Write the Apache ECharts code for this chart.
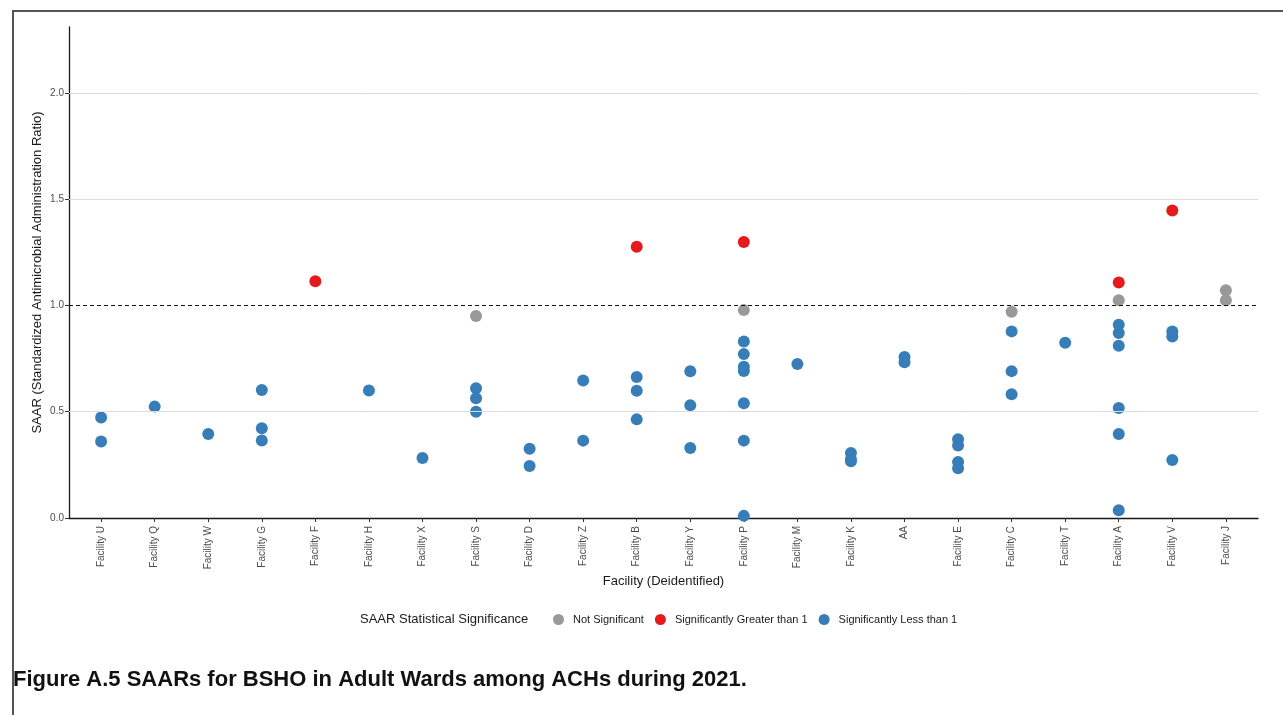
<!DOCTYPE html>
<html>
<head>
<meta charset="utf-8">
<script src="https://cdn.jsdelivr.net/npm/echarts@6/dist/echarts.min.js"></script>
<style>
  html, body { margin: 0; padding: 0; background: #fff; }
  #chart { width: 1283px; height: 715px; }
</style>
</head>
<body>
<div id="chart"></div>
<script>
// Facilities in display order along the x axis
const facilities = [
  'Facility U', 'Facility Q', 'Facility W', 'Facility G', 'Facility F', 'Facility H',
  'Facility X', 'Facility S', 'Facility D', 'Facility Z', 'Facility B', 'Facility Y',
  'Facility P', 'Facility M', 'Facility K', 'AA', 'Facility E', 'Facility C',
  'Facility T', 'Facility A', 'Facility V', 'Facility J'
];

// SAAR values per facility, grouped by statistical significance
const notSignificant = [
  ['Facility S', 0.950], ['Facility P', 0.978], ['Facility C', 0.970],
  ['Facility A', 1.025], ['Facility J', 1.072], ['Facility J', 1.024]
];
const greaterThan1 = [
  ['Facility F', 1.114], ['Facility B', 1.276], ['Facility P', 1.299],
  ['Facility A', 1.108], ['Facility V', 1.447]
];
const lessThan1 = [
  ['Facility U', 0.473], ['Facility U', 0.360],
  ['Facility Q', 0.524],
  ['Facility W', 0.395],
  ['Facility G', 0.602], ['Facility G', 0.422], ['Facility G', 0.365],
  ['Facility H', 0.600],
  ['Facility X', 0.282],
  ['Facility S', 0.610], ['Facility S', 0.563], ['Facility S', 0.500],
  ['Facility D', 0.326], ['Facility D', 0.245],
  ['Facility Z', 0.647], ['Facility Z', 0.364],
  ['Facility B', 0.663], ['Facility B', 0.599], ['Facility B', 0.464],
  ['Facility Y', 0.690], ['Facility Y', 0.530], ['Facility Y', 0.329],
  ['Facility P', 0.830], ['Facility P', 0.771], ['Facility P', 0.712], ['Facility P', 0.692],
  ['Facility P', 0.540], ['Facility P', 0.364], ['Facility P', 0.010],
  ['Facility M', 0.724],
  ['Facility K', 0.306], ['Facility K', 0.277], ['Facility K', 0.267],
  ['AA', 0.757], ['AA', 0.733],
  ['Facility E', 0.370], ['Facility E', 0.341], ['Facility E', 0.263], ['Facility E', 0.234],
  ['Facility C', 0.878], ['Facility C', 0.691], ['Facility C', 0.582],
  ['Facility T', 0.824],
  ['Facility A', 0.909], ['Facility A', 0.870], ['Facility A', 0.810],
  ['Facility A', 0.517], ['Facility A', 0.395], ['Facility A', 0.036],
  ['Facility V', 0.877], ['Facility V', 0.854], ['Facility V', 0.273]
];

// Y axis ticks, light grid lines and the reference line at SAAR = 1
const yTicks = [0, 0.5, 1.0, 1.5, 2.0];
const gridValues = [0.5, 1.5, 2.0];
const referenceSAAR = 1.0;

const seriesNames = ['Not Significant', 'Significantly Greater than 1', 'Significantly Less than 1'];
const seriesColors = ['#999999', '#E41A1C', '#377EB8'];

const xIndex = name => facilities.indexOf(name);
const toPoints = arr => arr.map(([f, v]) => [xIndex(f), v]);

const chart = echarts.init(document.getElementById('chart'), null, { renderer: 'canvas' });

const font = 'Liberation Sans, Arial, sans-serif';

const option = {
  backgroundColor: '#ffffff',
  animation: false,
  textStyle: { fontFamily: font },
  grid: { left: 69, right: 25, top: 27, bottom: 197, containLabel: false },
  xAxis: {
    type: 'value',
    min: -0.6,
    max: facilities.length - 1 + 0.6,
    name: 'Facility (Deidentified)',
    nameLocation: 'middle',
    nameGap: 57,
    nameMoveOverlap: false,
    nameTextStyle: { fontSize: 13, color: '#1a1a1a', fontFamily: font },
    axisLine: { show: true, onZero: false, lineStyle: { color: '#1a1a1a', width: 1.3 } },
    axisTick: { show: true, customValues: facilities.map((_, i) => i), length: 4, lineStyle: { color: '#333333' } },
    axisLabel: {
      customValues: facilities.map((_, i) => i),
      rotate: 90,
      fontSize: 10,
      color: '#4d4d4d',
      margin: 8,
      fontFamily: font,
      formatter: v => facilities[Math.round(v)]
    },
    splitLine: { show: false }
  },
  yAxis: {
    type: 'value',
    min: 0,
    max: 2.31,
    name: 'SAAR (Standardized Antimicrobial Administration Ratio)',
    nameLocation: 'middle',
    nameGap: 25,
    nameMoveOverlap: false,
    nameTextStyle: { fontSize: 13, color: '#1a1a1a', fontFamily: font },
    axisLine: { show: true, onZero: false, lineStyle: { color: '#1a1a1a', width: 1.3 } },
    axisTick: { show: true, customValues: yTicks, length: 4, lineStyle: { color: '#333333' } },
    axisLabel: {
      customValues: yTicks,
      fontSize: 10,
      color: '#4d4d4d',
      margin: 5,
      fontFamily: font,
      formatter: v => v.toFixed(1)
    },
    splitLine: { show: false }
  },
  legend: {
    data: seriesNames,
    left: 548,
    top: 609,
    icon: 'circle',
    itemWidth: 11,
    itemHeight: 11,
    itemGap: 11,
    textStyle: { fontSize: 11, color: '#1a1a1a', fontFamily: font, padding: [0, 0, 0, 4] }
  },
  graphic: [
    {
      type: 'rect',
      shape: { x: 13, y: 11, width: 1300, height: 760 },
      style: { fill: 'none', stroke: '#555555', lineWidth: 2 },
      z: 0
    },
    {
      type: 'text',
      left: 360,
      top: 613,
      style: { text: 'SAAR Statistical Significance', fontSize: 13, fill: '#1a1a1a', fontFamily: font }
    },
    {
      type: 'text',
      left: 13,
      top: 669,
      style: {
        text: 'Figure A.5 SAARs for BSHO in Adult Wards among ACHs during 2021.',
        fontSize: 22,
        fontWeight: 'bold',
        fill: '#111111',
        fontFamily: font
      }
    }
  ],
  series: [
    {
      name: 'grid',
      type: 'scatter',
      data: [],
      silent: true,
      markLine: {
        silent: true,
        symbol: 'none',
        label: { show: false },
        lineStyle: { color: '#dcdcdc', width: 1, type: 'solid' },
        data: gridValues.map(v => ({ yAxis: v }))
      },
      z: 1
    },
    {
      name: 'reference',
      type: 'scatter',
      data: [],
      silent: true,
      markLine: {
        silent: true,
        symbol: 'none',
        label: { show: false },
        lineStyle: { color: '#111111', width: 1, type: [4, 3] },
        data: [{ yAxis: referenceSAAR }]
      },
      z: 2
    },
    {
      name: seriesNames[0],
      type: 'scatter',
      symbolSize: 12,
      itemStyle: { color: seriesColors[0], opacity: 1 },
      data: toPoints(notSignificant),
      z: 3
    },
    {
      name: seriesNames[1],
      type: 'scatter',
      symbolSize: 12,
      itemStyle: { color: seriesColors[1], opacity: 1 },
      data: toPoints(greaterThan1),
      z: 3
    },
    {
      name: seriesNames[2],
      type: 'scatter',
      symbolSize: 12,
      itemStyle: { color: seriesColors[2], opacity: 1 },
      data: toPoints(lessThan1),
      z: 3
    }
  ]
};

chart.setOption(option);
</script>
</body>
</html>
